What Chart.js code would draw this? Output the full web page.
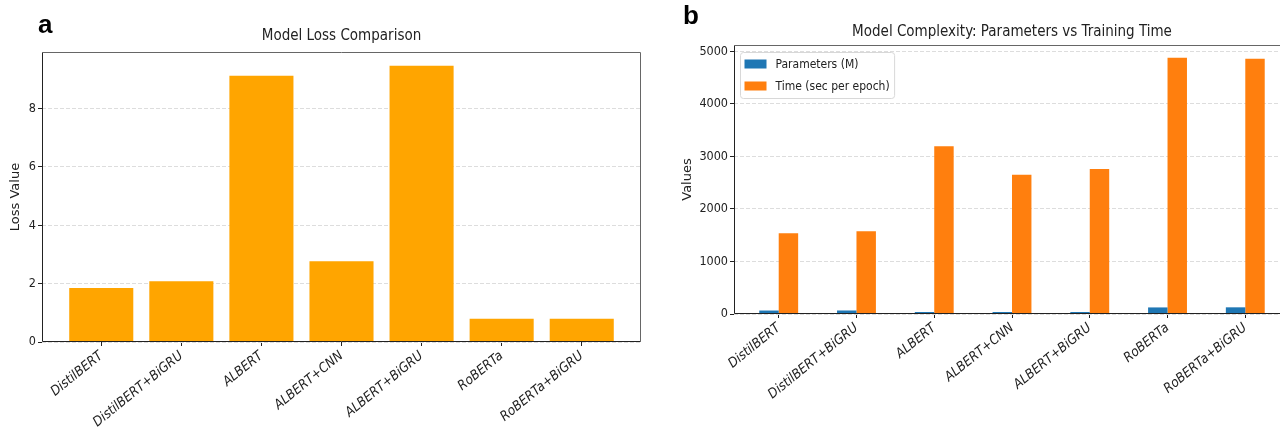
<!DOCTYPE html>
<html>
<head>
<meta charset="utf-8">
<script src="https://cdn.jsdelivr.net/npm/chart.js@4.4.1/dist/chart.umd.min.js"></script>
<style>
  html, body { margin: 0; padding: 0; background: #fff; overflow: hidden; }
  body { width: 1280px; height: 432px; position: relative; }
  .panel { position: absolute; top: 0; height: 432px; }
  #lossPanel { left: 0; width: 660px; }
  #complexPanel { left: 660px; width: 640px; }
</style>
</head>
<body>
<div class="panel" id="lossPanel"><canvas id="lossChart"></canvas></div>
<div class="panel" id="complexPanel"><canvas id="complexChart"></canvas></div>
<script>
// data
const models = ['DistilBERT', 'DistilBERT+BiGRU', 'ALBERT', 'ALBERT+CNN', 'ALBERT+BiGRU', 'RoBERTa', 'RoBERTa+BiGRU'];
const lossValues = [1.85, 2.08, 9.13, 2.77, 9.47, 0.80, 0.80];
const lossTicks = [0, 2, 4, 6, 8];
const paramsM = [66, 67, 12, 13, 13, 125, 127];
const timeSec = [1537, 1575, 3194, 2650, 2757, 4875, 4855];
const timeTicks = [0, 1000, 2000, 3000, 4000, 5000];

const narrow = "'DejaVu Sans Condensed', 'DejaVu Sans', sans-serif";
const plain = "'DejaVu Sans', sans-serif";

Chart.defaults.animation = false;
Chart.defaults.color = '#222';

/**
 * Draw the axes box on top of the bars
 */
const framePlugin = {
    id: 'frame',
    afterDatasetsDraw: function(chart) {
        const ctx = chart.ctx;
        const a = chart.chartArea;
        const l = Math.round(a.left) + 0.5, r = Math.round(a.right) - 0.5;
        const t = Math.round(a.top) + 0.5, b = Math.round(a.bottom) - 0.5;
        ctx.save();
        ctx.lineWidth = 1;
        ctx.strokeStyle = '#666';
        ctx.beginPath();
        ctx.moveTo(l, t); ctx.lineTo(r, t); ctx.lineTo(r, b);
        ctx.stroke();
        ctx.strokeStyle = '#222';
        ctx.beginPath();
        ctx.moveTo(l, t); ctx.lineTo(l, b); ctx.lineTo(r, b);
        ctx.stroke();
        ctx.restore();
    }
};

/**
 * Axes title centred over the plot area (not the whole canvas),
 * plus the bold panel letter (a / b) in the corner
 */
const headingPlugin = {
    id: 'heading',
    afterDraw: function(chart, args, opts) {
        const ctx = chart.ctx;
        const a = chart.chartArea;
        ctx.save();
        ctx.textBaseline = 'alphabetic';
        ctx.fillStyle = '#222';
        ctx.textAlign = 'center';
        ctx.font = '15px ' + narrow;
        ctx.fillText(opts.title, (a.left + a.right) / 2, opts.titleY);
        ctx.textAlign = 'left';
        ctx.fillStyle = '#000';
        ctx.font = "bold 26px 'Liberation Sans', Arial, sans-serif";
        ctx.fillText(opts.letter, opts.letterX, opts.letterY);
        ctx.restore();
    }
};

/**
 * Legend drawn inside the plot area, upper left, matplotlib style
 */
const innerLegendPlugin = {
    id: 'innerLegend',
    afterDatasetsDraw: function(chart) {
        const ctx = chart.ctx;
        const a = chart.chartArea;
        const sets = chart.data.datasets;
        ctx.save();
        ctx.font = '12px ' + narrow;
        let textW = 0;
        sets.forEach(ds => { textW = Math.max(textW, ctx.measureText(ds.label).width); });
        const x = Math.round(a.left) + 6.5, y = Math.round(a.top) + 7.5;
        const w = 35 + textW + 5, h = 46;
        ctx.fillStyle = 'rgba(255,255,255,0.8)';
        ctx.strokeStyle = '#d8d8d8';
        ctx.lineWidth = 1;
        ctx.beginPath();
        ctx.roundRect(x, y, w, h, 3);
        ctx.fill();
        ctx.stroke();
        sets.forEach((ds, i) => {
            const cy = y + 12 + i * 22;
            ctx.fillStyle = ds.backgroundColor;
            ctx.fillRect(x + 4, cy - 5, 22, 9);
            ctx.fillStyle = '#222';
            ctx.textBaseline = 'middle';
            ctx.fillText(ds.label, x + 35, cy);
        });
        ctx.restore();
    }
};

function xAxis(min, max, height) {
    return {
        type: 'linear',
        min: min,
        max: max,
        offset: false,
        afterBuildTicks: s => { s.ticks = models.map((m, i) => ({ value: i })); },
        afterFit: s => { s.height = height; s.paddingLeft = 0; s.paddingRight = 0; },
        grid: { offset: false, drawOnChartArea: false, drawTicks: true, tickLength: 4, tickColor: '#222' },
        border: { display: false },
        ticks: {
            autoSkip: false,
            minRotation: 39,
            maxRotation: 39,
            padding: 2,
            color: '#222',
            font: { family: narrow, size: 13.5, style: 'italic' },
            callback: v => models[v]
        }
    };
}

function yAxis(max, tickList, width, title, titlePad) {
    return {
        min: 0,
        max: max,
        afterBuildTicks: s => { s.ticks = tickList.map(v => ({ value: v })); },
        afterFit: s => { s.width = width; },
        grid: { color: '#dddddd', lineWidth: 1, tickLength: 4, tickColor: '#222' },
        border: { display: false, dash: [4, 2] },
        title: { display: true, text: title, color: '#222', font: { family: plain, size: 13 }, padding: { top: titlePad, bottom: 0 } },
        ticks: { padding: 2, color: '#222', font: { family: narrow, size: 12.5 }, callback: v => String(v) }
    };
}

new Chart(document.getElementById('lossChart'), {
    type: 'bar',
    data: {
        datasets: [{
            label: 'Loss',
            data: models.map((m, i) => ({ x: i, y: lossValues[i] })),
            backgroundColor: '#FFA500',
            barPercentage: 0.8,
            categoryPercentage: 1.0
        }]
    },
    options: {
        responsive: true,
        maintainAspectRatio: false,
        layout: { padding: { left: 0, right: 19, top: 52, bottom: 0 } },
        scales: {
            x: xAxis(-0.74, 6.74, 90),
            y: yAxis(9.94, lossTicks, 42, 'Loss Value', 8)
        },
        plugins: {
            legend: { display: false },
            tooltip: { enabled: false },
            heading: { title: 'Model Loss Comparison', titleY: 40, letter: 'a', letterX: 38, letterY: 33 }
        }
    },
    plugins: [framePlugin, headingPlugin]
});

new Chart(document.getElementById('complexChart'), {
    type: 'bar',
    data: {
        datasets: [{
            label: 'Parameters (M)',
            data: models.map((m, i) => ({ x: i, y: paramsM[i] })),
            backgroundColor: '#1f77b4',
            barPercentage: 1.0,
            categoryPercentage: 0.5,
            minBarLength: 2
        }, {
            label: 'Time (sec per epoch)',
            data: models.map((m, i) => ({ x: i, y: timeSec[i] })),
            backgroundColor: '#ff7f0e',
            barPercentage: 1.0,
            categoryPercentage: 0.5
        }]
    },
    options: {
        responsive: true,
        maintainAspectRatio: false,
        layout: { padding: { left: 0, right: 10, top: 45, bottom: 0 } },
        scales: {
            x: xAxis(-0.575, 6.575, 118),
            y: yAxis(5119, timeTicks, 74, 'Values', 20)
        },
        plugins: {
            legend: { display: false },
            tooltip: { enabled: false },
            heading: { title: 'Model Complexity: Parameters vs Training Time', titleY: 36, letter: 'b', letterX: 23, letterY: 24 }
        }
    },
    plugins: [framePlugin, innerLegendPlugin, headingPlugin]
});
</script>
</body>
</html>
